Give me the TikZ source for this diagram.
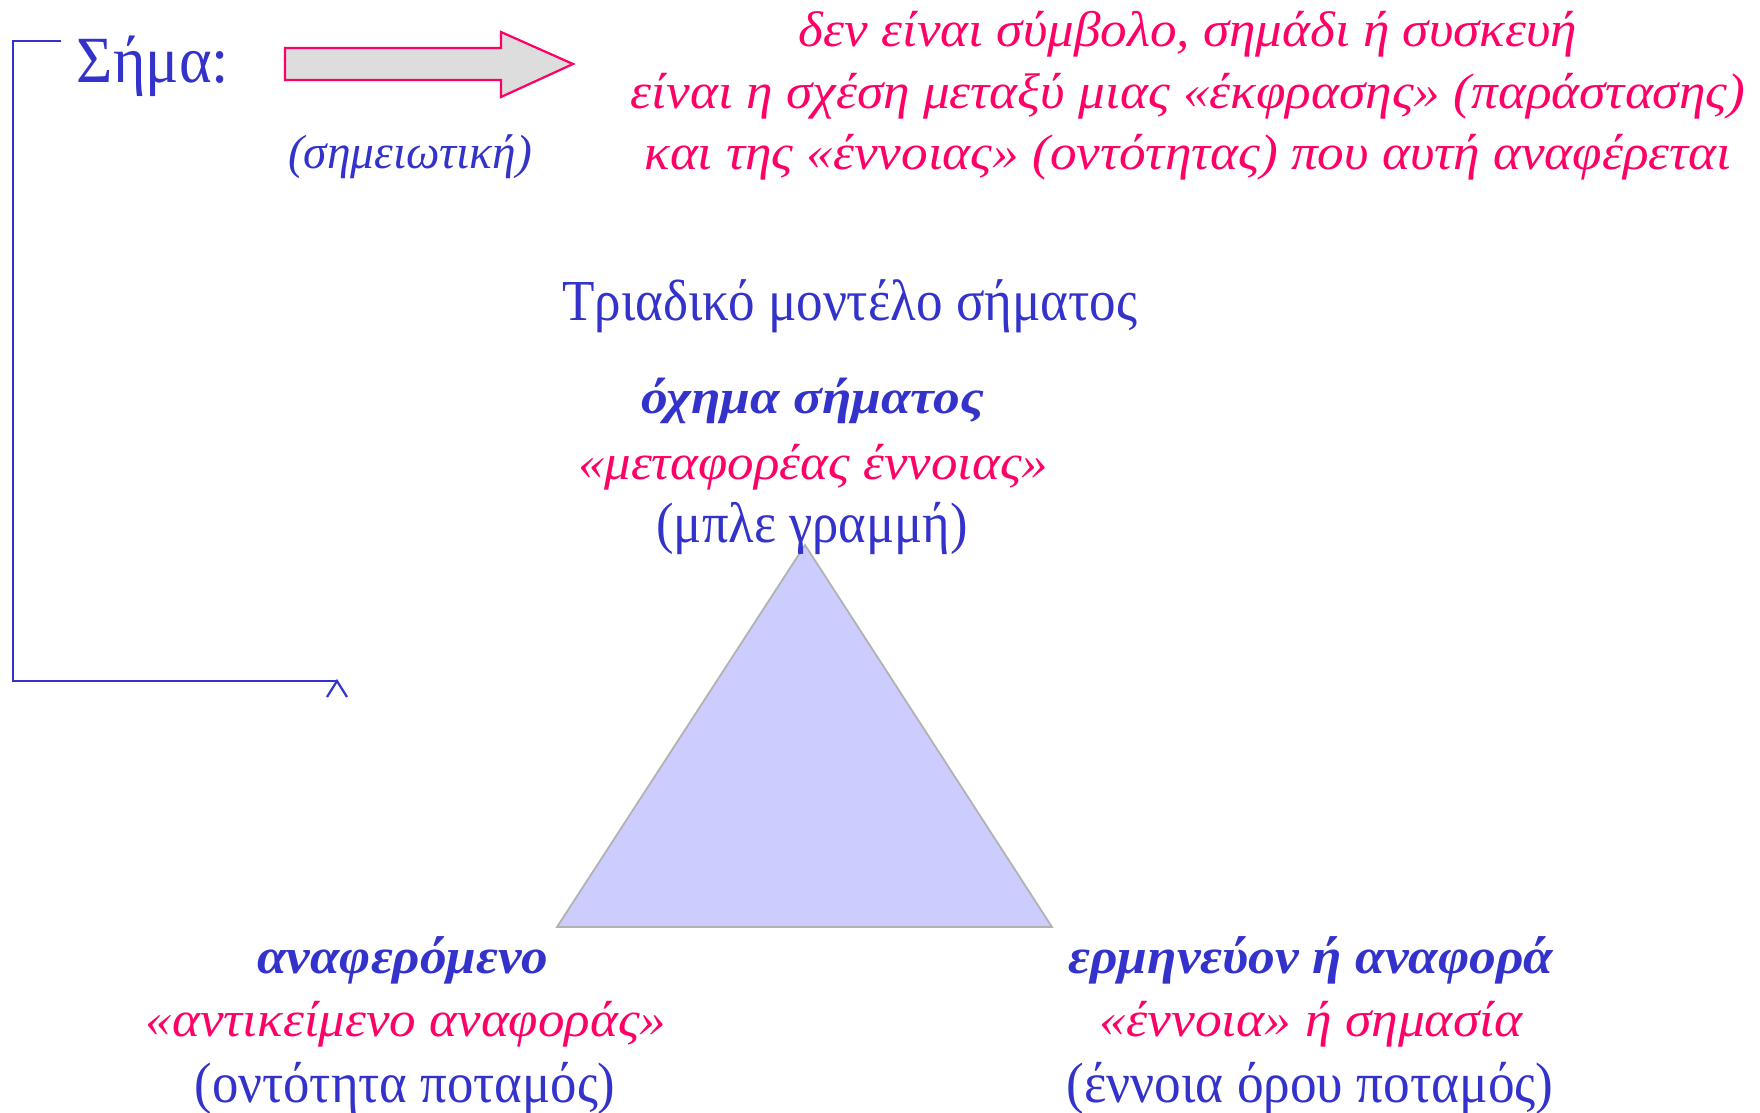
\documentclass[tikz,border=0pt]{standalone}
\usepackage{fontspec}
\setmainfont{Liberation Serif}
\usepackage{graphicx}
\definecolor{tblue}{HTML}{3333CC}
\definecolor{tpink}{HTML}{FF0066}
\definecolor{tfill}{HTML}{CCCCFF}
\definecolor{agray}{HTML}{DDDDDD}
\newcommand\fitw[2]{\resizebox{#1pt}{\height}{#2}}
\newcommand\fsz[1]{\fontsize{#1}{#1}\selectfont}
\begin{document}
\begin{tikzpicture}[x=1pt,y=-1pt,
  txt/.style={inner sep=0pt, anchor=base},
  bl/.style={txt, text=tblue},
  pk/.style={txt, text=tpink},
  conn/.style={draw=tblue, line width=2.2pt},
  bigarrow/.style={draw=tpink, fill=agray, line width=2.2pt, line join=miter},
  tri/.style={draw=black!30, fill=tfill, line width=1.8pt, line join=miter}]
\useasboundingbox (0,0) rectangle (1760,1112);
\fill[white] (0,0) rectangle (1760,1112);

% bracket connector
\coordinate (bstart) at (61,41);
\coordinate (bend) at (337,681);
\coordinate (capl) at (327,697);
\coordinate (capr) at (347,697);
\draw[conn] (bstart) -- (13,41) -- (13,681) -- (bend);
\draw[conn] (capl) -- (bend) -- (capr);

% block arrow
\draw[bigarrow] (285,48) -- (501,48) -- (501,32) -- (573,64) -- (501,97) -- (501,80) -- (285,80) -- cycle;

% triangle
\coordinate (ta) at (805,545);
\coordinate (tl) at (557,927);
\coordinate (tr) at (1052,927);
\draw[tri] (ta) -- (tl) -- (tr) -- cycle;

% texts
\node[bl] (sema) at (153,82) {\fsz{66}\fitw{152}{Σήμα:}};
\node[bl] (semio) at (410,168) {\fsz{48}\itshape\fitw{244}{(σημειωτική)}};

\node[pk] (p1) at (1188,46) {\fsz{50}\itshape\fitw{778}{δεν είναι σύμβολο, σημάδι ή συσκευή}};
\node[pk] (p2) at (1188,108) {\fsz{50}\itshape\fitw{1114}{είναι η σχέση μεταξύ μιας «έκφρασης» (παράστασης)}};
\node[pk] (p3) at (1188,169) {\fsz{50}\itshape\fitw{1087}{και της «έννοιας» (οντότητας) που αυτή αναφέρεται}};

\node[bl] (title) at (850,320) {\fsz{58}\fitw{575}{Τριαδικό μοντέλο σήματος}};

\node[bl] (v1) at (813,413) {\fsz{48}\bfseries\itshape\fitw{343}{όχημα σήματος}};
\node[pk] (v2) at (813,479) {\fsz{50}\itshape\fitw{470}{«μεταφορέας έννοιας»}};
\node[bl] (v3) at (812,542) {\fsz{57}\fitw{311}{(μπλε γραμμή)}};

\node[bl] (l1) at (403,973) {\fsz{50}\bfseries\itshape\fitw{291}{αναφερόμενο}};
\node[pk] (l2) at (406,1036) {\fsz{50}\itshape\fitw{520}{«αντικείμενο αναφοράς»}};
\node[bl] (l3) at (405,1102) {\fsz{57}\fitw{421}{(οντότητα ποταμός)}};

\node[bl] (r1) at (1311,973) {\fsz{50}\bfseries\itshape\fitw{485}{ερμηνεύον ή αναφορά}};
\node[pk] (r2) at (1311,1036) {\fsz{50}\itshape\fitw{423}{«έννοια» ή σημασία}};
\node[bl] (r3) at (1310,1102) {\fsz{57}\fitw{487}{(έννοια όρου ποταμός)}};
\end{tikzpicture}
\end{document}
